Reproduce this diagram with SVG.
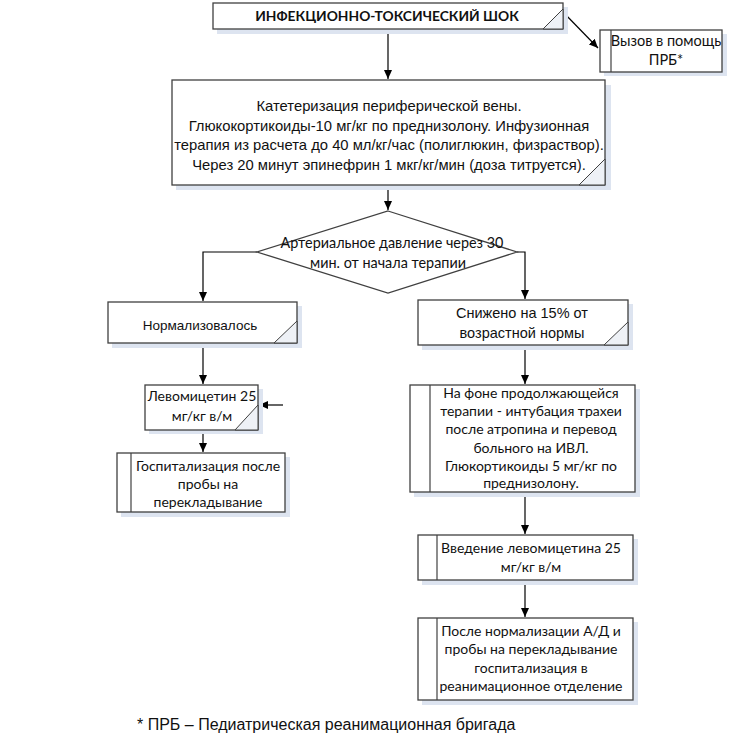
<svg xmlns="http://www.w3.org/2000/svg" width="729" height="750" viewBox="0 0 729 750">
<defs>
<marker id="ah" markerWidth="10" markerHeight="10" refX="9" refY="5" orient="auto" markerUnits="userSpaceOnUse">
<path d="M0,1 L9,5 L0,9 Z" fill="#000"/>
</marker>
<style>
.box{fill:#fff;stroke:#404040;stroke-width:1.3}
.sh{fill:#dde4f0}
.fold{fill:#eef1f6;stroke:#404040;stroke-width:1}
.ln{fill:none;stroke:#000;stroke-width:1.2}
.a{font-family:"Liberation Sans",Arial,sans-serif;font-size:14px;fill:#111;text-anchor:middle}
.c{font-family:Lato,"Open Sans",sans-serif;font-size:14px;fill:#111;text-anchor:middle}
</style>
</defs>
<rect width="729" height="750" fill="#fff"/>

<g id="connectors">
<path class="ln" d="M388,30 V79" marker-end="url(#ah)"/>
<path class="ln" d="M563,12 L598,48" marker-end="url(#ah)"/>
<path class="ln" d="M388,185 V210" marker-end="url(#ah)"/>
<path class="ln" d="M257,252 H203 V301" marker-end="url(#ah)"/>
<path class="ln" d="M517,252 H525 V299" marker-end="url(#ah)"/>
<path class="ln" d="M203,343 V384" marker-end="url(#ah)"/>
<path class="ln" d="M283,405 H259" marker-end="url(#ah)"/>
<path class="ln" d="M203,430 V452" marker-end="url(#ah)"/>
<path class="ln" d="M525,345 V384" marker-end="url(#ah)"/>
<path class="ln" d="M525,492 V534" marker-end="url(#ah)"/>
<path class="ln" d="M525,580 V617" marker-end="url(#ah)"/>
</g>

<g id="title">
<rect class="sh" x="217" y="7" width="351" height="27"/>
<rect class="box" x="213" y="3" width="350" height="26"/>
<path class="fold" d="M563,9 L563,29 L543,29 Z"/>
<text x="387" y="21" class="c" style="font-weight:bold;font-size:13.8px">ИНФЕКЦИОННО-ТОКСИЧЕСКИЙ ШОК</text>
</g>

<g id="call">
<rect class="sh" x="604" y="34" width="123" height="42"/>
<rect class="box" x="600" y="30" width="122" height="42"/>
<line x1="611" y1="30" x2="611" y2="72" stroke="#404040" stroke-width="1.2"/>
<text x="666" y="46" class="c" style="font-size:14.5px">Вызов в помощь</text>
<text x="666" y="65" class="c" style="font-size:14.5px">ПРБ*</text>
</g>

<g id="therapy">
<rect class="sh" x="176" y="85" width="435" height="105"/>
<rect class="box" x="172" y="80" width="433" height="105"/>
<path class="fold" d="M605,159 L605,185 L579,185 Z"/>
<g class="a" style="font-size:14.8px">
<text x="389" y="111">Катетеризация периферической вены.</text>
<text x="389" y="130.5">Глюкокортикоиды-10 мг/кг по преднизолону. Инфузионная</text>
<text x="389" y="150">терапия из расчета до 40 мл/кг/час (полиглюкин, физраствор).</text>
<text x="389" y="169.5">Через 20 минут эпинефрин 1 мкг/кг/мин (доза титруется).</text>
</g>
</g>

<g id="decision">
<polygon points="388,211 517,252 388,293 257,252" fill="#fff" stroke="#404040" stroke-width="1.3"/>
<text class="c" x="392" y="248" style="font-size:14.4px">Артериальное давление через 30</text>
<text class="c" x="388" y="268" style="font-size:14.4px">мин. от начала терапии</text>
</g>

<g id="normal">
<rect class="sh" x="112" y="306" width="190" height="42"/>
<rect class="box" x="108" y="302" width="189" height="41"/>
<path class="fold" d="M297,321 L297,343 L274,343 Z"/>
<text class="a" x="200" y="330" style="font-size:13.5px">Нормализовалось</text>
</g>

<g id="reduced">
<rect class="sh" x="422" y="304" width="211" height="46"/>
<rect class="box" x="418" y="300" width="210" height="45"/>
<path class="fold" d="M628,322 L628,345 L604,345 Z"/>
<text class="a" x="522" y="318" style="font-size:14.5px">Снижено на 15% от</text>
<text class="a" x="522" y="338" style="font-size:14.5px">возрастной нормы</text>
</g>

<g id="levo">
<rect class="sh" x="149" y="389" width="114" height="45"/>
<rect class="box" x="145" y="385" width="113" height="45"/>
<path class="fold" d="M258,405 L258,430 L235,430 Z"/>
<text class="c" x="202" y="401">Левомицетин 25</text>
<text class="c" x="202" y="421">мг/кг  в/м</text>
</g>

<g id="hosp">
<rect class="sh" x="121" y="457" width="169" height="60"/>
<rect class="box" x="117" y="453" width="168" height="59"/>
<line x1="131" y1="453" x2="131" y2="512" stroke="#404040" stroke-width="1.2"/>
<text class="c" x="208" y="471">Госпитализация после</text>
<text class="c" x="208" y="489">пробы на</text>
<text class="c" x="208" y="507">перекладывание</text>
</g>

<g id="intub">
<rect class="sh" x="414" y="389" width="226" height="108"/>
<rect class="box" x="410" y="385" width="225" height="107"/>
<line x1="430" y1="385" x2="430" y2="492" stroke="#404040" stroke-width="1.2"/>
<text class="c" x="531" y="398">На фоне продолжающейся</text>
<text class="c" x="531" y="416">терапии - интубация трахеи</text>
<text class="c" x="531" y="434">после атропина и перевод</text>
<text class="c" x="531" y="453">больного на ИВЛ.</text>
<text class="c" x="531" y="471">Глюкортикоиды 5 мг/кг по</text>
<text class="c" x="531" y="488">преднизолону.</text>
</g>

<g id="levo2">
<rect class="sh" x="422" y="539" width="216" height="46"/>
<rect class="box" x="418" y="535" width="215" height="45"/>
<line x1="437" y1="535" x2="437" y2="580" stroke="#404040" stroke-width="1.2"/>
<text class="c" x="531" y="553">Введение левомицетина 25</text>
<text class="c" x="531" y="572">мг/кг  в/м</text>
</g>

<g id="after">
<rect class="sh" x="422" y="622" width="216" height="83"/>
<rect class="box" x="418" y="618" width="215" height="82"/>
<line x1="437" y1="618" x2="437" y2="700" stroke="#404040" stroke-width="1.2"/>
<text class="c" x="531" y="636">После нормализации А/Д и</text>
<text class="c" x="531" y="654">пробы на перекладывание</text>
<text class="c" x="531" y="673">госпитализация в</text>
<text class="c" x="531" y="691">реанимационное отделение</text>
</g>

<text x="137" y="730" style="font-family:'Liberation Sans',Arial,sans-serif;font-size:16px;fill:#111">* ПРБ – Педиатрическая реанимационная бригада</text>
</svg>
